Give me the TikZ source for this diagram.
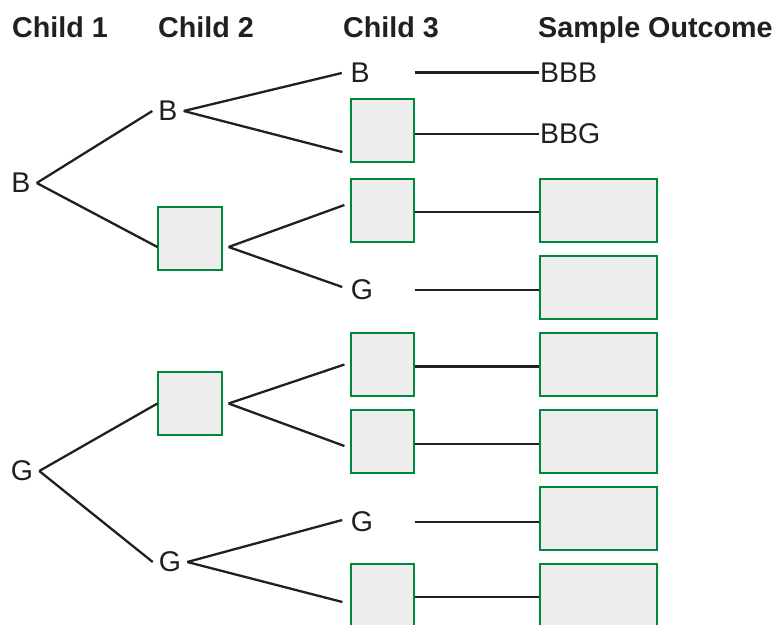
\documentclass[tikz,border=0pt]{standalone}
\usepackage{fontspec}
\setmainfont{Liberation Sans}
\definecolor{ink}{HTML}{231F20}
\definecolor{boxgreen}{RGB}{0,135,62}
\definecolor{boxfill}{HTML}{EDEDED}
\begin{document}
\begin{tikzpicture}[x=1pt,y=-1pt,
  lbl/.style={font=\fontsize{28.5}{30}\selectfont, inner sep=6pt, text=ink},
  head/.style={font=\fontsize{28.7}{30}\selectfont\bfseries, inner sep=0pt, anchor=base west, text=ink},
  blank/.style={draw=boxgreen, fill=boxfill, line width=1.2pt, minimum width=63pt, minimum height=63pt, inner sep=0pt},
  wide/.style={blank, minimum width=117pt},
  edge/.style={draw=ink, line width=2.3pt}]
\useasboundingbox (0,0) rectangle (775,624);
\clip (0,0) rectangle (775,624);
% headers
\node[head] (h1) at (12,37) {Child 1};
\node[head] (h2) at (158,37) {Child 2};
\node[head] (h3) at (343,37) {Child 3};
\node[head] (h4) at (538,37) {Sample Outcome};
% level 1
\node[lbl] (a1) at (21,183) {B};
\node[lbl] (a2) at (22,471) {G};
% level 2
\node[lbl] (b1) at (168,111) {B};
\node[blank, minimum width=64pt] (b2) at (190,238.5) {};
\node[blank, minimum width=64pt] (b3) at (190,403.5) {};
\node[lbl] (b4) at (170,562) {G};
% level 3
\node[lbl] (c1) at (360,73) {B};
\node[blank] (c2) at (382.5,130.5) {};
\node[blank] (c3) at (382.5,210.5) {};
\node[lbl] (c4) at (362,290) {G};
\node[blank] (c5) at (382.5,364.5) {};
\node[blank] (c6) at (382.5,441.5) {};
\node[lbl] (c7) at (362,522) {G};
\node[blank] (c8) at (382.5,595.5) {};
% outcomes
\node[lbl, anchor=west, inner sep=1pt] (d1) at (539,72.5) {BBB};
\node[lbl, anchor=west, inner sep=1pt] (d2) at (539,134) {BBG};
\node[wide] (d3) at (598.5,210.5) {};
\node[wide] (d4) at (598.5,287.5) {};
\node[wide] (d5) at (598.5,364.5) {};
\node[wide] (d6) at (598.5,441.5) {};
\node[wide] (d7) at (598.5,518.5) {};
\node[wide] (d8) at (598.5,595.5) {};
% level 1 -> 2
\draw[edge] (a1.east) -- (b1.west);
\draw[edge] (a1.east) -- ([yshift=-8.5pt]b2.west);
\draw[edge] (a2.east) -- (b3.west);
\draw[edge] (a2.east) -- (b4.west);
% level 2 -> 3
\draw[edge] (b1.east) -- ([xshift=-2.5pt]c1.west);
\draw[edge] (b1.east) -- ([shift={(-8pt,-21.5pt)}]c2.west);
\draw[edge] ([shift={(6pt,-8.5pt)}]b2.east) -- ([shift={(-6pt,5.5pt)}]c3.west);
\draw[edge] ([shift={(6pt,-8.5pt)}]b2.east) -- ([shift={(-2.5pt,3pt)}]c4.west);
\draw[edge] ([xshift=6pt]b3.east) -- ([xshift=-6pt]c5.west);
\draw[edge] ([xshift=6pt]b3.east) -- ([shift={(-6pt,-4.5pt)}]c6.west);
\draw[edge] (b4.east) -- ([shift={(-2.5pt,2pt)}]c7.west);
\draw[edge] (b4.east) -- ([shift={(-8pt,-6.5pt)}]c8.west);
% level 3 -> outcome
\draw[edge] (d1.west -| c2.east) -- (d1.west);
\draw[edge] (d2.west -| c2.east) -- (d2.west);
\draw[edge] ([yshift=-1.5pt]c3.east) -- ([yshift=-1.5pt]d3.west);
\draw[edge] (c4 -| c3.east) -- (c4 -| d4.west);
\draw[edge] ([yshift=-2pt]c5.east) -- ([yshift=-2pt]d5.west);
\draw[edge] ([yshift=-2.5pt]c6.east) -- ([yshift=-2.5pt]d6.west);
\draw[edge] (c7 -| c3.east) -- (c7 -| d7.west);
\draw[edge] ([yshift=-1.5pt]c8.east) -- ([yshift=-1.5pt]d8.west);
\end{tikzpicture}
\end{document}
